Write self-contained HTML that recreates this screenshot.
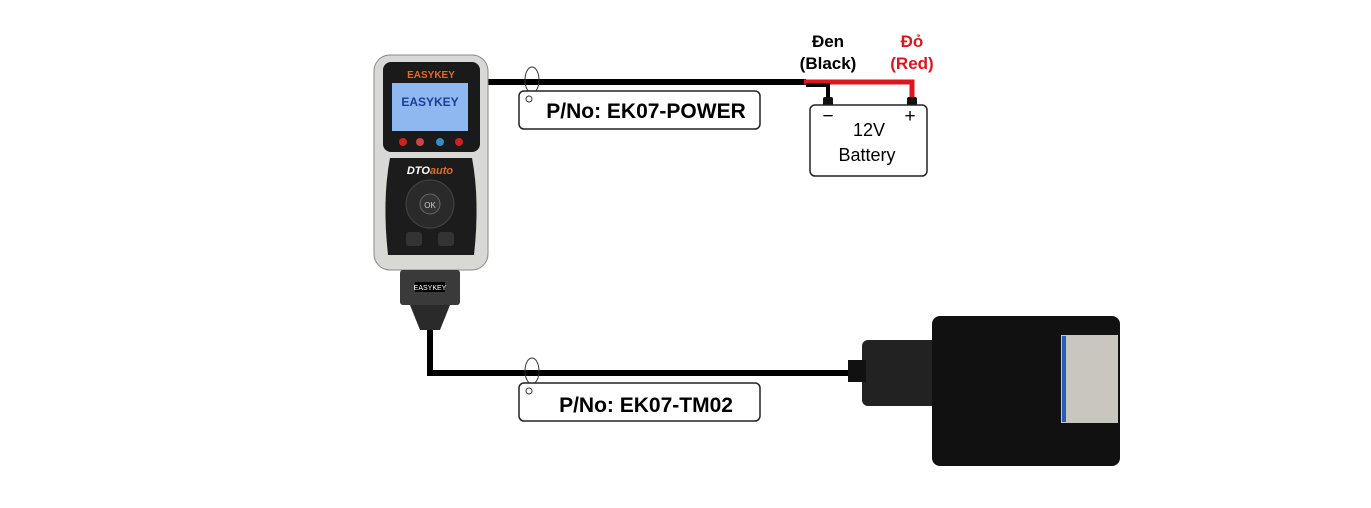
<!DOCTYPE html>
<html><head><style>
body{margin:0;width:1371px;height:503px;background:#fff;overflow:hidden;font-family:"Liberation Sans",sans-serif}
</style></head><body>
<svg width="1371" height="503" viewBox="0 0 1371 503" xmlns="http://www.w3.org/2000/svg" font-family="'Liberation Sans','DejaVu Sans',sans-serif">
<polyline points="480,82 806,82" stroke="#000" stroke-width="6" fill="none"/>
<polyline points="804,82 912,82 912,100" stroke="#e0141c" stroke-width="5" fill="none"/>
<polyline points="806,85 828,85 828,100" stroke="#000" stroke-width="4" fill="none"/>
<rect x="823" y="97" width="10" height="9" rx="2" fill="#111"/>
<rect x="907" y="97" width="10" height="9" rx="2" fill="#111"/>
<polyline points="430,320 430,373 870,373" stroke="#000" stroke-width="6" fill="none"/>
<ellipse cx="532" cy="80" rx="7" ry="13" stroke="#333" fill="none" stroke-width="1"/>
<ellipse cx="532" cy="371" rx="7" ry="13" stroke="#333" fill="none" stroke-width="1"/>
<rect x="519" y="91" width="241" height="38" rx="5" fill="#fff" stroke="#222" stroke-width="1.5"/>
<circle cx="529" cy="99" r="3" fill="none" stroke="#333"/>
<text x="646" y="118" font-size="21" font-weight="bold" text-anchor="middle">P/No: EK07-POWER</text>
<rect x="519" y="383" width="241" height="38" rx="5" fill="#fff" stroke="#222" stroke-width="1.5"/>
<circle cx="529" cy="391" r="3" fill="none" stroke="#333"/>
<text x="646" y="412" font-size="21" font-weight="bold" text-anchor="middle">P/No: EK07-TM02</text>
<rect x="810" y="105" width="117" height="71" rx="5" fill="#fff" stroke="#222" stroke-width="1.5"/>
<text x="828" y="122" font-size="19" text-anchor="middle">−</text>
<text x="910" y="122" font-size="19" text-anchor="middle">+</text>
<text x="869" y="136" font-size="18" text-anchor="middle">12V</text>
<text x="867" y="161" font-size="18" text-anchor="middle">Battery</text>
<text x="828" y="47" font-size="17" font-weight="bold" text-anchor="middle">Đen</text>
<text x="828" y="69" font-size="17" font-weight="bold" text-anchor="middle">(Black)</text>
<text x="912" y="47" font-size="17" font-weight="bold" fill="#e0141c" text-anchor="middle">Đỏ</text>
<text x="912" y="69" font-size="17" font-weight="bold" fill="#e0141c" text-anchor="middle">(Red)</text>
<rect x="374" y="55" width="114" height="215" rx="16" fill="#d8d8d4" stroke="#888"/>
<rect x="383" y="62" width="97" height="90" rx="8" fill="#1a1a1a"/>
<text x="431" y="78" font-size="10" font-weight="bold" text-anchor="middle" fill="#e46a1c">EASYKEY</text>
<rect x="392" y="83" width="76" height="48" fill="#8fb8f0"/>
<text x="430" y="106" font-size="12" font-weight="bold" text-anchor="middle" fill="#1d3c9a">EASYKEY</text>
<circle cx="403" cy="142" r="4" fill="#c22"/><circle cx="420" cy="142" r="4" fill="#c44"/><circle cx="440" cy="142" r="4" fill="#3a8ac8"/><circle cx="459" cy="142" r="4" fill="#c22"/>
<path d="M390 158 H472 Q480 200 474 255 H388 Q382 200 390 158Z" fill="#1c1c1c"/>
<text x="430" y="174" font-size="11" font-weight="bold" font-style="italic" text-anchor="middle" fill="#fff">DTO<tspan fill="#e46a1c">auto</tspan></text>
<circle cx="430" cy="204" r="24" fill="#2a2a2a" stroke="#444"/>
<circle cx="430" cy="204" r="10" fill="#333" stroke="#666"/>
<text x="430" y="208" font-size="8" fill="#ccc" text-anchor="middle">OK</text>
<rect x="406" y="232" width="16" height="14" rx="3" fill="#333"/><rect x="438" y="232" width="16" height="14" rx="3" fill="#333"/>
<rect x="400" y="270" width="60" height="35" rx="3" fill="#3a3a3a"/>
<rect x="415" y="282" width="30" height="10" fill="#000"/>
<text x="430" y="290" font-size="7" fill="#fff" text-anchor="middle">EASYKEY</text>
<path d="M410 305 H450 L440 330 H420Z" fill="#2a2a2a"/>
<rect x="862" y="340" width="75" height="66" rx="6" fill="#222"/>
<rect x="848" y="360" width="18" height="22" fill="#111"/>
<rect x="932" y="316" width="188" height="150" rx="8" fill="#111"/>
<rect x="1061" y="335" width="57" height="88" fill="#c8c6be"/>
<rect x="1062" y="336" width="4" height="86" fill="#2a5db8"/>
</svg>
</body></html>
